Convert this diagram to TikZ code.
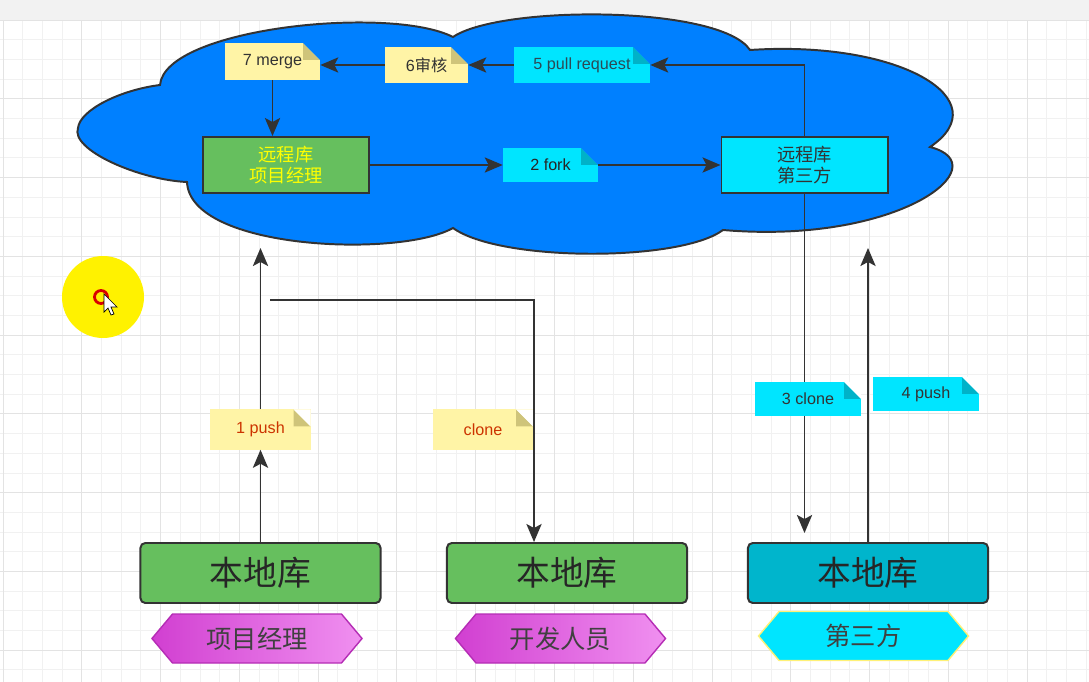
\documentclass[tikz,border=0pt]{standalone}
\usepackage{fontspec}
\setmainfont{Liberation Sans}
\newfontfamily\cjk{Noto Sans CJK SC}
\usetikzlibrary{arrows.meta,positioning,shapes.symbols}
\definecolor{cloudblue}{HTML}{0080FF}
\definecolor{noteyellow}{HTML}{FFF4A6}
\definecolor{foldyellow}{HTML}{CFC47A}
\definecolor{notecyan}{HTML}{00E5FF}
\definecolor{foldcyan}{HTML}{00B2C8}
\definecolor{repogreen}{HTML}{66BF5E}
\definecolor{repoteal}{HTML}{00B5CC}
\definecolor{darkline}{HTML}{333333}
\definecolor{pushred}{HTML}{CC3300}
\definecolor{pulltext}{HTML}{2C4A55}
\definecolor{roleleft}{HTML}{D13FD1}
\definecolor{roleright}{HTML}{F090F0}
\definecolor{roleedge}{HTML}{B52DB5}
\definecolor{hexedge}{HTML}{FFF176}
\definecolor{remoteyellow}{HTML}{FFFF00}
\definecolor{gridminor}{HTML}{F1F1F1}
\definecolor{gridmajor}{HTML}{E3E3E3}
\definecolor{topbar}{HTML}{F2F2F2}
\newcommand\foldsz{0.42cm}
\newcommand\notefont{\fontsize{11.5}{13}\selectfont}
\tikzset{
  foldcol/.store in=\foldcol, foldcol=foldyellow,
  cutcol/.store in=\cutcol, cutcol=white,
  note/.style={rectangle, inner sep=0pt, font=\notefont, text=darkline,
               path picture={
                 \coordinate (ne) at (path picture bounding box.north east);
                 \fill[\foldcol] ([xshift=-\foldsz]ne) -- ([xshift=-\foldsz,yshift=-\foldsz]ne) -- ([yshift=-\foldsz]ne) -- cycle;
                 \fill[\cutcol] ([xshift=-\foldsz]ne) -- (ne) -- ([yshift=-\foldsz]ne) -- cycle;}},
  yellownote/.style={note, fill=noteyellow, foldcol=foldyellow},
  cyannote/.style={note, fill=notecyan, foldcol=foldcyan},
  remotebox/.style={rectangle, draw=darkline, line width=1.4pt, minimum width=4.15cm, minimum height=1.4cm,
                    align=center, font={\cjk\fontsize{13}{15.5}\selectfont}},
  localbox/.style={rectangle, rounded corners=0.12cm, draw=darkline, line width=1.4pt, minimum width=6cm,
                   minimum height=1.5cm, font={\cjk\fontsize{24}{27}\selectfont}, text=black!85},
  rolehex/.style={signal, signal to=west and east, signal pointer angle=100, minimum width=5.25cm,
                  minimum height=1.225cm, line width=1pt, font={\cjk\fontsize{18}{20}\selectfont}, text=black!75},
  pmhex/.style={rolehex, draw=roleedge, left color=roleleft, right color=roleright},
  tphex/.style={rolehex, draw=hexedge, fill=notecyan},
  cloudshape/.style={fill=cloudblue, draw=darkline, line width=1.4pt},
  conn/.style={line width=1.4pt, draw=darkline},
  arr/.style={conn, -{Stealth[length=0.45cm, width=0.38cm, inset=0.1cm]}},
}

\begin{document}
\begin{tikzpicture}[x=0.025cm, y=-0.025cm]
  % canvas and grid
  \useasboundingbox (0,0) rectangle (1089,682);
  \fill[white] (0,0) rectangle (1089,682);
  \foreach \k in {0,...,55} {\draw[gridminor, line width=0.5pt] ({3+19.69*\k},20) -- ({3+19.69*\k},682);}
  \foreach \k in {0,...,33} {\draw[gridminor, line width=0.5pt] (0,{20+19.69*\k}) -- (1089,{20+19.69*\k});}
  \foreach \k in {0,4,...,52} {\draw[gridmajor, line width=0.5pt] ({3+19.69*\k},20) -- ({3+19.69*\k},682);}
  \foreach \k in {0,4,...,32} {\draw[gridmajor, line width=0.5pt] (0,{20+19.69*\k}) -- (1089,{20+19.69*\k});}
  \fill[topbar] (0,0) rectangle (1089,20);

  % cloud
  \draw[cloudshape] (160,85) .. controls (165,28) and (390,5) .. (453,37)
    .. controls (500,5) and (720,5) .. (750,50)
    .. controls (900,40) and (1000,100) .. (930,147)
    .. controls (1000,165) and (900,245) .. (723,230)
    .. controls (680,262) and (500,262) .. (453,228)
    .. controls (400,258) and (190,250) .. (187,182)
    .. controls (140,180) and (70,150) .. (78,128)
    .. controls (80,110) and (120,90) .. (160,85) -- cycle;

  % cursor highlight
  \fill[yellow] (103,297) circle (41);
  \draw[red!85!black, line width=2pt] (101,297) circle (6.5);
  \filldraw[fill=white, draw=black, line width=0.5pt] (104,294) -- (104,312) -- (108,308) -- (111,315)
    -- (114,314) -- (111,307) -- (117,307) -- cycle;

  % remote side
  \node[yellownote, cutcol=cloudblue, minimum width=2.375cm, minimum height=0.925cm] (merge7) at (272.5,61.5) {7 merge};
  \node[yellownote, cutcol=cloudblue, minimum width=2.075cm, minimum height=0.9cm] (review6) at (426.5,65) {6{\cjk 审核}};
  \node[cyannote, cutcol=cloudblue, text=pulltext, minimum width=3.4cm, minimum height=0.9cm] (pull5) at (582,65) {5 pull request};
  \node[cyannote, cutcol=cloudblue, text=black!85, minimum width=2.375cm, minimum height=0.85cm] (fork2) at (550.5,165) {2 fork};
  \node[remotebox, fill=repogreen, text=remoteyellow] (remotepm) at (286,165) {远程库\\项目经理};
  \node[remotebox, fill=notecyan, text=black!80] (remotetp) at (804.5,165) {远程库\\第三方};
  \coordinate (pmup) at (260.5,248);
  \coordinate (tpup) at (868,248);

  % local side
  \node[localbox, fill=repogreen] (localpm) at (260.5,573) {本地库};
  \node[localbox, fill=repogreen] (localdev) at (567,573) {本地库};
  \node[localbox, fill=repoteal] (localtp) at (868,573) {本地库};
  \node[pmhex] (rolepm) at (257,638.5) {项目经理};
  \node[pmhex] (roledev) at (560.5,638.5) {开发人员};
  \node[tphex] (roletp) at (863.5,636) {第三方};
  \node[yellownote, text=pushred, minimum width=2.5cm, minimum height=1cm] (push1) at (260.5,429.5) {1 push};
  \node[yellownote, text=pushred, minimum width=2.5cm, minimum height=1cm] (clonedev) at (483,429.5) {clone};
  \node[cyannote, minimum width=2.65cm, minimum height=0.85cm] (push4) at (926,394) {4 push};
  \coordinate (clonestart) at (270,300);
  \coordinate (clonebend) at (534,300);
  \coordinate (clone3end) at (804.5,533);

  % connectors
  \draw[arr] (remotetp.north) |- (pull5.east);
  \draw[arr] (pull5) -- (review6);
  \draw[arr] (review6.west) -- (review6.west -| merge7.east);
  \draw[arr] (merge7) -- (merge7 |- remotepm.north);
  \draw[arr] (remotepm) -- (fork2);
  \draw[arr] (fork2) -- (remotetp);
  \draw[arr] (localpm.north) -- (push1.south);
  \draw[arr] (push1.north) -- (pmup);
  \draw[arr] (clonestart) -- (clonebend) -- (clonebend |- localdev.north);
  \draw[arr] (remotetp.south) -- (clone3end);
  \draw[arr] (localtp.north) -- (tpup);
  \node[cyannote, minimum width=2.65cm, minimum height=0.85cm] (clone3) at (808,399) {3 clone};
\end{tikzpicture}
\end{document}
